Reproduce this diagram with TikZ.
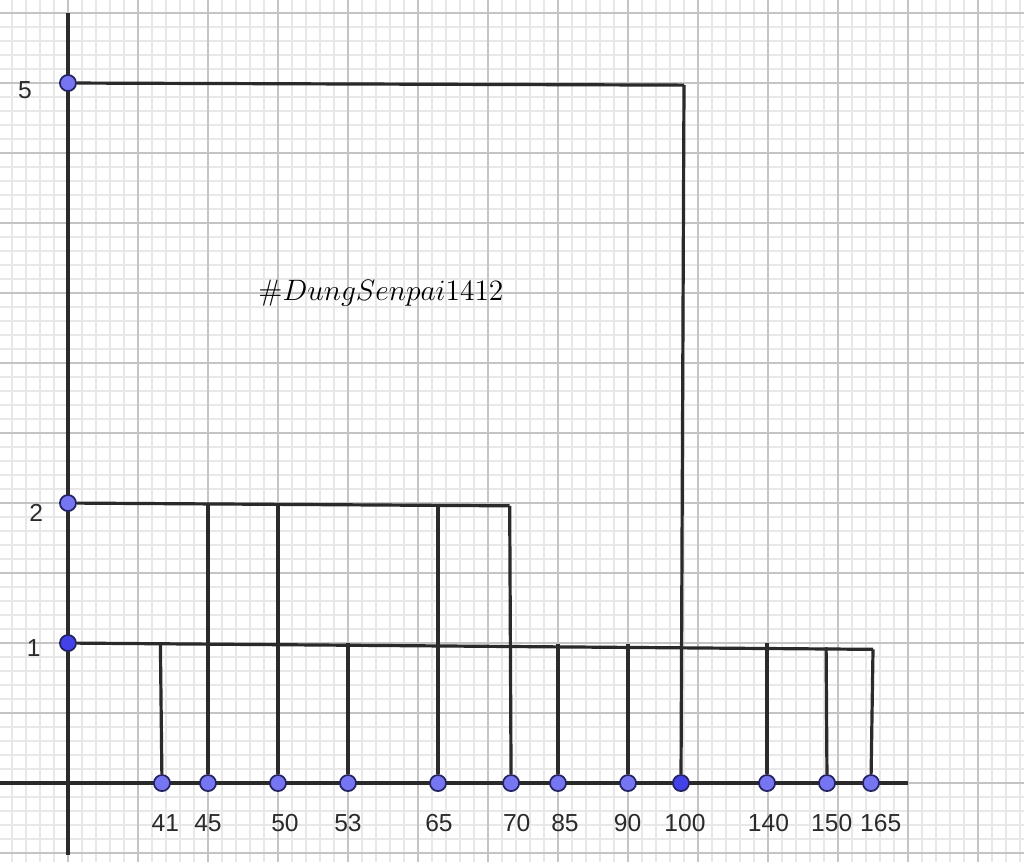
\documentclass[tikz,border=0pt]{standalone}
\usepackage{fontspec}
\setsansfont{Liberation Sans}
\usepackage{tikz}
\usetikzlibrary{positioning}
\definecolor{GridMinor}{RGB}{232,232,232}
\definecolor{GridMajor}{RGB}{196,196,196}
\definecolor{PtBlue}{RGB}{118,118,242}
\definecolor{PtDark}{RGB}{66,66,232}
\definecolor{PtEdge}{RGB}{35,35,95}
\definecolor{LineGray}{RGB}{42,42,42}

\begin{document}
\begin{tikzpicture}[pt/.style={circle,draw=PtEdge,fill=PtBlue,line width=0.7pt,inner sep=0pt,minimum size=0.23cm},
	ticklab/.style={font=\sffamily\fontsize{10}{12}\selectfont,text=LineGray,inner sep=0pt},
	seg/.style={draw=LineGray,line width=1.3pt}]
			\useasboundingbox (-0.971,-1.129) rectangle (13.657,11.186);
			\draw[GridMinor,line width=0.5pt,step=0.2] (-0.971,-1.129) grid (13.657,11.186);
			\draw[GridMajor,line width=0.6pt,step=1] (-0.971,-1.129) grid (13.657,11.186);
			% axes
			\coordinate (xl) at (-0.971,0);
			\coordinate (xr) at (12.0,0);
			\coordinate (yb) at (0,-1.03);
			\coordinate (yt) at (0,11.0);
			\draw[LineGray,line width=1.5pt] (xl) -- (xr);
			\draw[LineGray,line width=1.5pt] (yb) -- (yt);
			% points on the axes
			\node [pt, name = y5] at (0,10) {};
			\node [pt, name = y2] at (0,4) {};
			\node [pt, fill=PtDark, name = y1] at (0,2) {};
			\node [pt, name = p41] at (1.343,0) {};
			\node [pt, name = p45] at (2,0) {};
			\node [pt, name = p50] at (3,0) {};
			\node [pt, name = p53] at (4,0) {};
			\node [pt, name = p65] at (5.286,0) {};
			\node [pt, name = p70] at (6.33,0) {};
			\node [pt, name = p85] at (7,0) {};
			\node [pt, name = p90] at (8,0) {};
			\node [pt, fill=PtDark, name = p100] at (8.757,0) {};
			\node [pt, name = p140] at (9.986,0) {};
			\node [pt, name = p150] at (10.843,0) {};
			\node [pt, name = p165] at (11.471,0) {};
			% corners
			\coordinate (t100) at (8.8,9.97);
			\coordinate (t70) at (6.31,3.96);
			\coordinate (t45) at (2,4.0);
			\coordinate (t50) at (3,4.0);
			\coordinate (t65) at (5.286,3.99);
			\coordinate (t165) at (11.5,1.91);
			\coordinate (t41) at (1.32,2.0);
			\coordinate (t53) at (4,2.0);
			\coordinate (t85) at (7,1.99);
			\coordinate (t90) at (8,1.99);
			\coordinate (t140) at (9.986,2.0);
			\coordinate (t150) at (10.83,1.94);
			% level 5
			\draw[seg] (y5) -- (t100);
			\draw[seg] (t100) -- (p100);
			% level 2
			\draw[seg] (y2) -- (t70);
			\draw[seg] (t70) -- (p70);
			\draw[seg] (t45) -- (p45);
			\draw[seg] (t50) -- (p50);
			\draw[seg] (t65) -- (p65);
			% level 1
			\draw[seg] (y1) -- (t165);
			\draw[seg] (t165) -- (p165);
			\draw[seg] (t41) -- (p41);
			\draw[seg] (t53) -- (p53);
			\draw[seg] (t85) -- (p85);
			\draw[seg] (t90) -- (p90);
			\draw[seg] (t140) -- (p140);
			\draw[seg] (t150) -- (p150);
			% labels
			\node [ticklab, name = l5] at (-0.614,9.893) {5};
			\node [ticklab, name = l2] at (-0.452,3.857) {2};
			\node [ticklab, name = l1] at (-0.49,1.93) {1};
			\node [ticklab, name = l41] at (1.39,-0.571) {41};
			\node [ticklab, name = l45] at (2.0,-0.571) {45};
			\node [ticklab, name = l50] at (3.1,-0.571) {50};
			\node [ticklab, name = l53] at (4.0,-0.571) {53};
			\node [ticklab, name = l65] at (5.3,-0.571) {65};
			\node [ticklab, name = l70] at (6.41,-0.571) {70};
			\node [ticklab, name = l85] at (7.1,-0.571) {85};
			\node [ticklab, name = l90] at (7.995,-0.571) {90};
			\node [ticklab, name = l100] at (8.814,-0.571) {100};
			\node [ticklab, name = l140] at (10.007,-0.571) {140};
			\node [ticklab, name = l150] at (10.91,-0.571) {150};
			\node [ticklab, name = l165] at (11.61,-0.571) {165};
			\node [inner sep=0pt, font=\large, name = tag] at (4.471,7.0) {$\#DungSenpai1412$};
		\end{tikzpicture}
\end{document}
